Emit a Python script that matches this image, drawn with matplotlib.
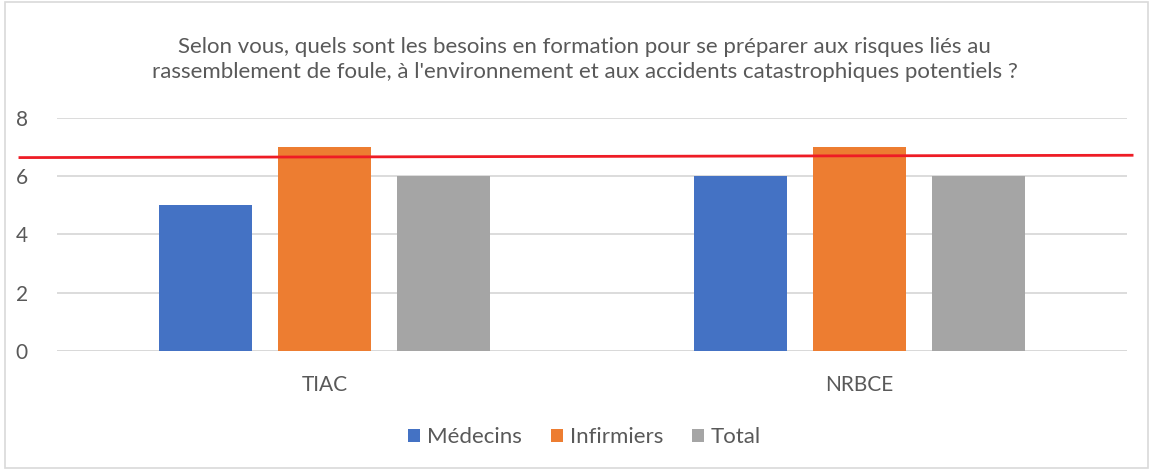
import matplotlib
matplotlib.use("Agg")
import matplotlib.pyplot as plt
import matplotlib.transforms as mtransforms
from matplotlib.patches import Rectangle
import numpy as np

# --- Donnees ---
categories = ["TIAC", "NRBCE"]
series_names = ["Médecins", "Infirmiers", "Total"]
medecins = [5, 6]
infirmiers = [7, 7]
total = [6, 6]
red_line_y = [6.64, 6.72]  # trait rouge trace a la main (gauche, droite)
y_ticks = [0, 2, 4, 6, 8]

title = ("Selon vous, quels sont les besoins en formation pour se préparer aux risques liés au\n"
         "rassemblement de foule, à l'environnement et aux accidents catastrophiques potentiels ?")

colors = ["#4472C4", "#ED7D31", "#A5A5A5"]
text_col = "#595959"
grid_col = "#D9D9D9"

plt.rcParams["font.family"] = ["Lato", "DejaVu Sans"]

fig = plt.figure(figsize=(11.53, 4.70), dpi=100)
ax = fig.add_axes([0.0494, 0.2532, 0.9281, 0.4958])

x = np.arange(len(categories))
width = 0.174
step = 0.222
for i, (name, vals) in enumerate(zip(series_names, [medecins, infirmiers, total])):
    ax.bar(x + (i - 1) * step, vals, width, color=colors[i], label=name, zorder=2)

ax.set_xlim(-0.5, 1.5)
ax.set_ylim(0, 8)
ax.set_yticks(y_ticks)
ax.set_xticks(x)
ax.set_xticklabels(categories)
ax.grid(axis="y", color=grid_col, linewidth=1.3, zorder=0)
for s in ["top", "right", "left", "bottom"]:
    ax.spines[s].set_visible(False)
ax.axhline(0, color=grid_col, linewidth=1.3, zorder=1)
ax.tick_params(axis="both", length=0, labelsize=15, labelcolor=text_col)
ax.tick_params(axis="y", pad=21)
ax.tick_params(axis="x", pad=17)

# Trait rouge
trans = mtransforms.blended_transform_factory(ax.transAxes, ax.transData)
ax.plot([-0.0346, 1.0047], red_line_y, color="#EE1C25", linewidth=2,
        transform=trans, clip_on=False, zorder=3)

fig.text(0.507, 0.874, title, ha="center", va="center", fontsize=16,
         color=text_col, linespacing=1.3)

leg = fig.legend(loc="center", bbox_to_anchor=(0.507, 0.07), ncol=3, frameon=False,
                 fontsize=16, handlelength=0.55, handleheight=0.55, columnspacing=1.3,
                 handletextpad=0.3)
for t in leg.get_texts():
    t.set_color(text_col)

fig.patches.append(Rectangle((0.004, 0.005), 0.992, 0.99, transform=fig.transFigure,
                             fill=False, edgecolor=grid_col, linewidth=1.2))

fig.savefig("out.png", dpi=100)
